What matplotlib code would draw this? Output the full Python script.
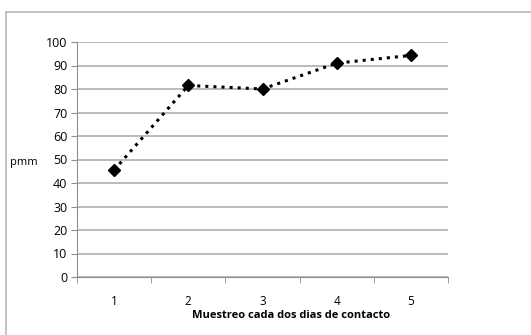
import matplotlib
matplotlib.use("Agg")
import matplotlib.pyplot as plt
from matplotlib.patches import Rectangle

muestreo = [1, 2, 3, 4, 5]
pmm = [45.5, 81.5, 80.0, 91.0, 94.3]
y_ticks = list(range(0, 101, 10))

W, H = 531, 335
fig = plt.figure(figsize=(W / 100, H / 100), dpi=100)
plt.rcParams['font.family'] = ['Open Sans', 'DejaVu Sans']

# outer chart frame (partly cut off at right and bottom)
fig.patches.append(Rectangle((6 / W, -0.1), 1.2, 1.1 - 12 / H, transform=fig.transFigure,
                             fill=False, edgecolor='#b8b8b8', linewidth=1.2, clip_on=False))

ax = fig.add_axes([77 / W, 1 - 277 / H, (448 - 77) / W, (277 - 42) / H])
ax.plot(muestreo, pmm, color='black', linestyle=':', linewidth=2.2,
        marker='D', markersize=6.5)

ax.set_xlim(0.5, 5.5)
ax.set_ylim(0, 100)
ax.set_yticks(y_ticks)
ax.set_xticks(muestreo)
ax.set_xticks([x + 0.5 for x in [0] + muestreo], minor=True)
ax.tick_params(axis='x', which='major', length=0, pad=13, labelsize=8.5)
ax.tick_params(axis='x', which='minor', length=4, color='#909090', direction='out')
ax.tick_params(axis='y', length=4, color='#909090', labelsize=9, pad=3)
ax.grid(axis='y', color='#a8a8a8', linewidth=1.1)
ax.set_axisbelow(True)
for s in ['top', 'right']:
    ax.spines[s].set_visible(False)
for s in ['left', 'bottom']:
    ax.spines[s].set_color('#909090')

fig.text(38 / W, 1 - 163 / H, 'pmm', ha='right', va='center', fontsize=8)
fig.text(291 / W, 1 - 315 / H, 'Muestreo cada dos dias de contacto',
         ha='center', va='center', fontsize=8, fontweight='bold')

fig.savefig('out.png', dpi=100)
